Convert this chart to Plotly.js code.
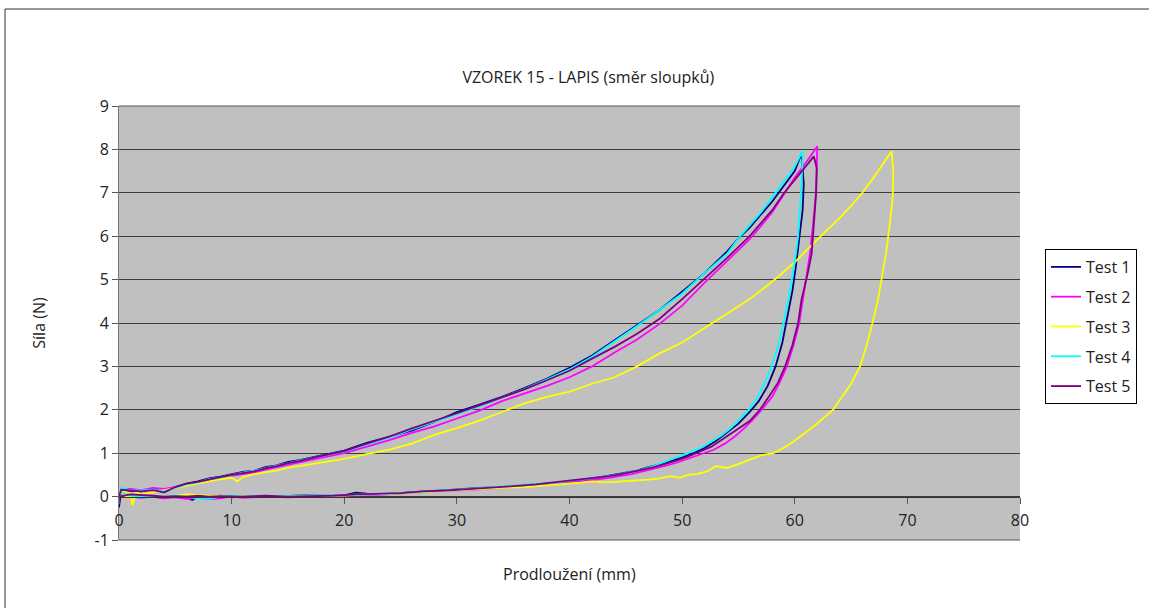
<!DOCTYPE html>
<html>
<head>
<meta charset="utf-8">
<script src="https://cdn.plot.ly/plotly-3.0.1.min.js"></script>
<style>html,body{margin:0;padding:0;background:#fff;}#chart{width:1149px;height:608px;}</style>
</head>
<body>
<div id="chart"></div>
<script>
// ---- Data ----
var seriesNames = ["Test 1", "Test 2", "Test 3", "Test 4", "Test 5"];
var seriesColors = ["#000080", "#FF00FF", "#FFFF00", "#00FFFF", "#800080"];

// Test 1
var load1X = [0, 0.2, 1, 2, 3, 4, 5, 6, 7, 8, 9, 10, 11, 12, 13, 14, 15, 16, 18, 20, 22, 24, 26, 28, 30, 32, 34, 36, 38, 40, 42, 44, 46, 48, 50, 52, 54, 55, 56, 57, 58, 59, 60, 60.6];
var load1Y = [-0.25, 0.15, 0.13, 0.12, 0.18, 0.1, 0.22, 0.3, 0.35, 0.42, 0.46, 0.52, 0.57, 0.6, 0.68, 0.72, 0.8, 0.84, 0.95, 1.06, 1.24, 1.38, 1.52, 1.72, 1.95, 2.12, 2.3, 2.5, 2.72, 2.97, 3.25, 3.6, 3.95, 4.3, 4.72, 5.15, 5.65, 5.95, 6.2, 6.5, 6.8, 7.15, 7.5, 7.9];
var unload1X = [60.8, 60.7, 60.4, 60.1, 59.8, 59.4, 58.9, 58.3, 57.6, 56.8, 56.0, 55.0, 54.0, 53.0, 52.0, 51.0, 50.0, 49.0, 48.0, 47.0, 46.0, 45.0, 44.0, 43.0, 42.0, 41.0, 40.0, 38.0, 36.0, 34.0, 32.0, 30.0, 28.0, 26.0, 24.0, 22.0, 21.0, 20.0, 18.0, 16.0, 14.0, 12.0, 10.0, 9.0, 8.0, 7.0, 6.5, 6.0, 5.0, 4.0, 3.0, 2.0, 1.0, 0.3];
var unload1Y = [7.2, 6.6, 5.9, 5.3, 4.75, 4.2, 3.55, 3.0, 2.55, 2.2, 1.95, 1.68, 1.47, 1.28, 1.12, 1.0, 0.9, 0.82, 0.74, 0.68, 0.6, 0.55, 0.5, 0.46, 0.42, 0.38, 0.35, 0.3, 0.26, 0.22, 0.2, 0.16, 0.13, 0.1, 0.06, 0.07, 0.09, 0.03, 0.02, 0.03, 0.0, 0.01, -0.02, 0.02, -0.02, 0.0, -0.08, -0.02, 0.0, -0.03, 0.0, 0.02, 0.0, 0.0];

// Test 2
var load2X = [0, 0.2, 1, 2, 3, 4, 5, 6, 7, 8, 9, 10, 11, 12, 13, 14, 15, 16, 18, 20, 22, 24, 26, 28, 30, 32, 34, 36, 38, 40, 42, 44, 46, 48, 50, 52, 54, 56, 57, 58, 59, 60, 61, 62];
var load2Y = [0.0, 0.18, 0.18, 0.15, 0.2, 0.18, 0.22, 0.28, 0.32, 0.38, 0.43, 0.48, 0.52, 0.56, 0.62, 0.68, 0.73, 0.79, 0.9, 1.0, 1.15, 1.3, 1.47, 1.62, 1.8, 1.98, 2.2, 2.38, 2.55, 2.75, 3.0, 3.32, 3.62, 3.98, 4.4, 4.93, 5.42, 5.93, 6.23, 6.55, 6.95, 7.35, 7.7, 8.07];
var unload2X = [61.95, 61.85, 61.6, 61.35, 61.0, 60.75, 60.4, 59.9, 59.3, 58.7, 58.0, 57.05, 56.2, 55.4, 54.7, 53.8, 52.8, 51.6, 50.5, 49.5, 48.5, 47.5, 46.5, 45.5, 44.5, 43.5, 42.5, 41.5, 40.5, 39, 37, 35, 33, 31, 29, 27, 25, 23, 21, 19, 17, 15, 13, 11, 10, 9, 8, 7, 6, 5, 4, 3, 2, 1, 0];
var unload2Y = [7.5, 6.9, 6.2, 5.6, 5.0, 4.54, 4.0, 3.5, 3.0, 2.65, 2.3, 2.0, 1.75, 1.55, 1.39, 1.22, 1.08, 0.97, 0.87, 0.78, 0.71, 0.64, 0.58, 0.52, 0.47, 0.43, 0.4, 0.37, 0.34, 0.3, 0.26, 0.22, 0.18, 0.15, 0.13, 0.1, 0.06, 0.04, 0.03, 0.02, 0.0, -0.02, 0.0, -0.03, 0.0, -0.04, -0.06, -0.03, -0.05, -0.02, -0.04, 0.0, -0.03, 0.0, 0.0];

// Test 3
var load3X = [0, 0.3, 1, 1.2, 1.5, 2, 3, 4, 5, 6, 7, 8, 9, 10, 10.5, 11, 12, 13, 14, 15, 16, 18, 20, 22, 24, 26, 28, 30, 32, 34, 36, 38, 40, 42, 44, 46, 48, 50, 52, 54, 56, 58, 60, 62, 64, 65, 66, 67, 68, 68.6];
var load3Y = [0.0, 0.12, 0.08, -0.2, 0.1, 0.05, 0.1, 0.15, 0.2, 0.26, 0.3, 0.36, 0.4, 0.44, 0.35, 0.45, 0.52, 0.56, 0.6, 0.66, 0.7, 0.78, 0.87, 0.98, 1.08, 1.22, 1.42, 1.58, 1.75, 1.95, 2.15, 2.3, 2.42, 2.6, 2.75, 3.0, 3.3, 3.55, 3.88, 4.2, 4.55, 4.95, 5.4, 5.92, 6.42, 6.7, 7.0, 7.35, 7.75, 7.96];
var unload3X = [68.75, 68.7, 68.4, 68.1, 67.7, 67.4, 66.9, 66.4, 65.8, 65.0, 64.2, 63.4, 62.5, 61.7, 60.8, 59.9, 59.0, 58.1, 57.0, 55.7, 55.0, 54.0, 53.0, 52.2, 51.3, 50.5, 49.8, 49.0, 48.0, 47.0, 46.0, 45.0, 44.0, 43.0, 42.0, 41.0, 40.0, 38.0, 36.0, 34.0, 32.0, 30.0, 28.0, 26.0, 24.0, 22.0, 20.0, 18.0, 16.0, 14.0, 12.0, 10.0, 8.0, 6.0, 4.0, 2.0, 0.5];
var unload3Y = [7.5, 6.9, 6.2, 5.6, 5.0, 4.54, 4.0, 3.5, 3.0, 2.6, 2.3, 2.0, 1.8, 1.62, 1.45, 1.27, 1.12, 1.0, 0.95, 0.81, 0.75, 0.66, 0.7, 0.58, 0.52, 0.5, 0.43, 0.47, 0.42, 0.39, 0.37, 0.36, 0.34, 0.33, 0.35, 0.32, 0.3, 0.27, 0.22, 0.2, 0.17, 0.15, 0.12, 0.09, 0.06, 0.05, 0.02, 0.0, 0.02, 0.0, 0.0, 0.01, 0.02, 0.05, 0.0, 0.02, 0.0];

// Test 4
var load4X = [0, 0.2, 1, 2, 3, 4, 5, 6, 7, 8, 9, 10, 11, 12, 13, 14, 15, 16, 18, 20, 22, 24, 26, 28, 30, 32, 34, 36, 38, 40, 42, 44, 46, 48, 50, 52, 54, 55, 56, 57, 58, 59, 60, 60.7];
var load4Y = [0.0, 0.2, 0.15, 0.14, 0.16, 0.12, 0.2, 0.28, 0.33, 0.4, 0.44, 0.5, 0.55, 0.6, 0.66, 0.72, 0.78, 0.83, 0.93, 1.04, 1.2, 1.36, 1.55, 1.72, 1.9, 2.08, 2.28, 2.48, 2.7, 2.93, 3.22, 3.57, 3.93, 4.3, 4.68, 5.15, 5.6, 5.95, 6.25, 6.55, 6.9, 7.25, 7.6, 7.96];
var unload4X = [60.65, 60.5, 60.3, 60.0, 59.7, 59.4, 59.0, 58.5, 57.95, 57.3, 56.6, 55.9, 55.0, 54.2, 53.4, 52.5, 51.6, 50.5, 49.5, 48.5, 47.5, 46.5, 45.5, 44.5, 43.5, 42.5, 41.5, 40.5, 39, 37, 35, 33, 31, 29, 27, 25, 23, 21, 19, 17, 15, 13, 11, 10, 9, 8, 7, 6, 5, 4, 3, 2, 1, 0.2];
var unload4Y = [7.5, 6.8, 6.0, 5.4, 4.9, 4.5, 4.0, 3.45, 3.0, 2.6, 2.25, 2.0, 1.75, 1.55, 1.39, 1.25, 1.12, 1.0, 0.9, 0.8, 0.71, 0.63, 0.57, 0.52, 0.48, 0.44, 0.41, 0.38, 0.33, 0.29, 0.25, 0.21, 0.18, 0.15, 0.11, 0.08, 0.06, 0.04, 0.03, 0.02, 0.01, 0.02, 0.0, 0.02, 0.0, -0.05, -0.04, 0.0, 0.02, 0.0, 0.01, 0.0, 0.02, 0.1];

// Test 5
var load5X = [0, 0.2, 1, 2, 3, 4, 5, 6, 7, 8, 9, 10, 11, 12, 13, 14, 15, 16, 18, 20, 22, 24, 26, 28, 30, 32, 34, 36, 38, 40, 42, 44, 46, 48, 50, 52, 54, 56, 57, 58, 59, 60, 61, 61.7];
var load5Y = [0.0, 0.16, 0.14, 0.12, 0.15, 0.1, 0.22, 0.3, 0.34, 0.4, 0.45, 0.5, 0.54, 0.58, 0.65, 0.7, 0.77, 0.82, 0.94, 1.05, 1.22, 1.38, 1.57, 1.74, 1.92, 2.1, 2.28, 2.47, 2.68, 2.9, 3.18, 3.45, 3.75, 4.1, 4.55, 5.02, 5.5, 6.0, 6.3, 6.6, 6.98, 7.3, 7.6, 7.84];
var unload5X = [61.95, 61.9, 61.7, 61.5, 61.2, 60.9, 60.6, 60.3, 59.8, 59.15, 58.5, 57.7, 56.9, 56.0, 55.2, 54.5, 53.5, 52.6, 51.6, 50.5, 49.5, 48.5, 47.5, 46.5, 45.5, 44.5, 43.5, 42.5, 41.5, 40.5, 39, 37, 35, 33, 31, 29, 27, 25, 23, 21, 19, 17, 15, 13, 11, 9, 8, 7, 6, 5, 4, 3, 2, 1, 0];
var unload5Y = [7.57, 7.0, 6.3, 5.6, 5.2, 4.85, 4.54, 4.0, 3.5, 3.0, 2.62, 2.3, 2.0, 1.74, 1.6, 1.47, 1.3, 1.15, 1.04, 0.92, 0.83, 0.75, 0.68, 0.62, 0.56, 0.51, 0.47, 0.44, 0.4, 0.37, 0.33, 0.28, 0.24, 0.2, 0.17, 0.14, 0.12, 0.08, 0.07, 0.05, 0.02, 0.01, 0.0, 0.02, 0.0, 0.01, 0.0, 0.02, 0.0, 0.01, 0.0, 0.02, 0.03, 0.05, 0.0];

var xTickVals = [0, 10, 20, 30, 40, 50, 60, 70, 80];
var yTickVals = [-1, 0, 1, 2, 3, 4, 5, 6, 7, 8, 9];

var titleText = "VZOREK 15 - LAPIS (směr sloupků)";
var xTitle = "Prodloužení (mm)";
var yTitle = "Síla (N)";

// ---- Build traces ----
var allX = [load1X.concat(unload1X), load2X.concat(unload2X), load3X.concat(unload3X), load4X.concat(unload4X), load5X.concat(unload5X)];
var allY = [load1Y.concat(unload1Y), load2Y.concat(unload2Y), load3Y.concat(unload3Y), load4Y.concat(unload4Y), load5Y.concat(unload5Y)];

var FONT = "'Open Sans', 'Noto Sans', sans-serif";
var TXT = "#222";
var traces = seriesNames.map(function (n, i) {
  return {
    type: "scatter", mode: "lines", name: n,
    x: allX[i], y: allY[i],
    legendgroup: "g" + i,
    line: { color: seriesColors[i], width: 1.8 }
  };
});

var layout = {
  width: 1149, height: 608,
  margin: { l: 119, r: 129, t: 106, b: 68, autoexpand: false },
  paper_bgcolor: "#ffffff",
  plot_bgcolor: "#C0C0C0",
  font: { family: FONT, size: 15, color: TXT },
  showlegend: true,
  title: { text: titleText, font: { family: FONT, size: 16, color: TXT },
           x: 0.512, xref: "container", xanchor: "center", y: 0.872, yref: "container", yanchor: "middle" },
  xaxis: {
    range: [0, 80], tickvals: xTickVals, ticktext: xTickVals.map(String),
    anchor: "free", position: 0.1,
    showgrid: false, zeroline: false,
    showline: true, linecolor: "#333", linewidth: 1,
    ticks: "outside", ticklen: 6, tickcolor: "#555",
    ticklabelstandoff: 3,
    tickfont: { family: FONT, size: 16, color: TXT }
  },
  yaxis: {
    range: [-1, 9], tickvals: yTickVals, ticktext: yTickVals.map(String),
    showgrid: true, gridcolor: "#3c3c3c", gridwidth: 1,
    zeroline: false,
    showline: true, linecolor: "#777", linewidth: 1,
    ticks: "outside", ticklen: 6, tickcolor: "#555",
    tickfont: { family: FONT, size: 16, color: TXT },
    title: { text: yTitle, font: { family: FONT, size: 16, color: TXT }, standoff: 44 }
  },
  legend: {
    xref: "container", yref: "container",
    x: 0.9095, y: 0.5905, xanchor: "left", yanchor: "top",
    bgcolor: "#ffffff", bordercolor: "#000", borderwidth: 1,
    font: { family: FONT, size: 16, color: TXT },
    traceorder: "grouped", tracegroupgap: 6
  },
  annotations: [
    { text: xTitle, xref: "paper", yref: "paper", x: 0.5, y: -0.078, xanchor: "center", yanchor: "middle",
      showarrow: false, font: { family: FONT, size: 16, color: TXT } }
  ],
  shapes: [
    { type: "rect", xref: "paper", yref: "paper", x0: -0.1265, x1: 1.4, y0: -0.5, y1: 1.2235,
      line: { color: "#333", width: 1 }, fillcolor: "rgba(0,0,0,0)", layer: "below" },
    { type: "line", xref: "paper", yref: "paper", x0: 0, x1: 1, y0: 1, y1: 1, line: { color: "#555", width: 1 } },
    { type: "line", xref: "paper", yref: "paper", x0: 0, x1: 1, y0: 0, y1: 0, line: { color: "#555", width: 1 } }
  ]
};

Plotly.newPlot("chart", traces, layout, { displayModeBar: false, staticPlot: true });
</script>
</body>
</html>
